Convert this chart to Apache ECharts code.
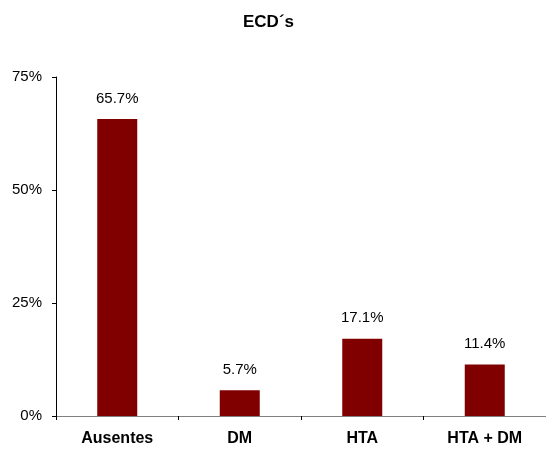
<!DOCTYPE html>
<html>
<head>
<meta charset="utf-8">
<script src="https://cdn.jsdelivr.net/npm/echarts@6/dist/echarts.min.js"></script>
<style>
  html, body { margin: 0; padding: 0; background: #fff; }
  #chart { width: 546px; height: 449px; }
</style>
</head>
<body>
<div id="chart"></div>
<script>
// datos del grafico
const categories = ['Ausentes', 'DM', 'HTA', 'HTA + DM'];
const values = [65.7, 5.7, 17.1, 11.4];
const yTicks = [0, 25, 50, 75];

const chart = echarts.init(document.getElementById('chart'));
chart.setOption({
    animation: false,
    title: {
        text: 'ECD´s',
        left: 238,
        top: 9,
        textStyle: {
            fontFamily: 'Liberation Sans, Arial',
            fontSize: 17,
            fontWeight: 'bold',
            color: '#000'
        }
    },
    grid: {
        left: 56,
        right: -6,
        top: 77,
        bottom: 33
    },
    xAxis: {
        type: 'category',
        data: categories,
        axisLine: { lineStyle: { color: '#808080', width: 1 } },
        axisTick: { show: true, length: 4, lineStyle: { color: '#000' } },
        axisLabel: {
            margin: 15,
            fontFamily: 'Liberation Sans, Arial',
            fontSize: 16,
            fontWeight: 'bold',
            color: '#000'
        }
    },
    yAxis: {
        type: 'value',
        min: yTicks[0],
        max: yTicks[yTicks.length - 1],
        interval: 25,
        splitLine: { show: false },
        axisLine: { show: true, lineStyle: { color: '#000', width: 1 } },
        axisTick: { show: true, length: 4, lineStyle: { color: '#000' } },
        axisLabel: {
            margin: 14,
            formatter: '{value}%',
            fontFamily: 'Liberation Sans, Arial',
            fontSize: 15,
            color: '#000'
        }
    },
    series: [{
        type: 'bar',
        data: values,
        barWidth: 40,
        itemStyle: { color: '#800000' },
        label: {
            show: true,
            position: 'top',
            distance: 13,
            formatter: p => p.value.toFixed(1) + '%',
            fontFamily: 'Liberation Sans, Arial',
            fontSize: 15,
            color: '#000'
        }
    }]
});
</script>
</body>
</html>
